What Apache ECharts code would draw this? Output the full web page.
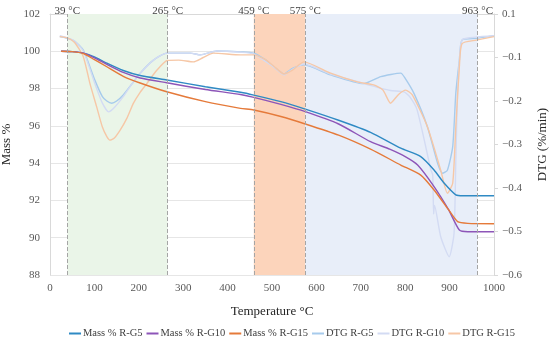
<!DOCTYPE html>
<html>
<head>
<meta charset="utf-8">
<script src="https://cdn.jsdelivr.net/npm/echarts@6/dist/echarts.min.js"></script>
<style>html,body{margin:0;padding:0;background:#fff}#c{width:550px;height:348px}</style>
</head>
<body>
<div id="c"></div>
<script>
const seriesNames = ['Mass % R-G5','Mass % R-G10','Mass % R-G15','DTG R-G5','DTG R-G10','DTG R-G15'];
const xTicks = [0,100,200,300,400,500,600,700,800,900,1000];
const leftTicks = [88,90,92,94,96,98,100,102];
const rightTickValues = [-0.6,-0.5,-0.4,-0.3,-0.2,-0.1,0];
const rightTickLabels = ['\u22120.6','\u22120.5','\u22120.4','\u22120.3','\u22120.2','\u22120.1','0.1'];
const stageLines = [39,265,459,575,963];
const stageAreas = [[39,265],[459,575],[575,963]];

const massG5 = [[25,100],[50,99.98],[75,99.9],[100,99.7],[128,99.36],[165,98.97],[203,98.7],[263,98.46],[350,98.1],[429,97.8],[459,97.65],[520,97.3],[575,96.9],[650,96.3],[722,95.65],[790,94.8],[835,94.35],[865,93.63],[888,92.92],[914,92.3],[930,92.25],[1000,92.25]];
const massG10 = [[25,100],[50,99.98],[75,99.9],[100,99.65],[128,99.3],[165,98.87],[203,98.57],[263,98.31],[350,97.95],[429,97.68],[459,97.53],[520,97.15],[575,96.76],[650,96.1],[722,95.15],[765,94.75],[800,94.35],[828,93.9],[865,92.74],[898,91.49],[922,90.41],[941,90.32],[1000,90.32]];
const massG15 = [[25,100],[50,99.98],[75,99.88],[100,99.55],[128,99.17],[165,98.66],[203,98.3],[263,97.83],[350,97.3],[429,96.94],[459,96.85],[520,96.5],[575,96.1],[650,95.5],[722,94.75],[790,93.9],[835,93.36],[865,92.56],[898,91.49],[918,90.86],[941,90.77],[1000,90.75]];
const dtgG5 = [[22,-0.052],[39,-0.056],[55,-0.062],[75,-0.083],[101,-0.152],[118,-0.19],[128,-0.2],[139,-0.205],[150,-0.2],[165,-0.186],[185,-0.16],[203,-0.136],[233,-0.106],[263,-0.09],[316,-0.09],[339,-0.094],[376,-0.085],[429,-0.087],[459,-0.09],[485,-0.105],[504,-0.121],[527,-0.138],[546,-0.125],[572,-0.117],[632,-0.14],[707,-0.16],[745,-0.144],[790,-0.136],[800,-0.148],[820,-0.183],[850,-0.259],[873,-0.343],[884,-0.366],[895,-0.359],[907,-0.305],[914,-0.182],[922,-0.106],[928,-0.06],[960,-0.056],[1000,-0.05]];
const dtgG10 = [[22,-0.05],[39,-0.055],[55,-0.062],[75,-0.085],[101,-0.16],[118,-0.205],[132,-0.225],[145,-0.215],[165,-0.19],[185,-0.16],[203,-0.137],[233,-0.106],[263,-0.09],[316,-0.09],[339,-0.094],[376,-0.085],[429,-0.088],[459,-0.092],[504,-0.122],[527,-0.14],[546,-0.127],[572,-0.115],[632,-0.138],[707,-0.16],[767,-0.176],[797,-0.179],[810,-0.19],[827,-0.221],[858,-0.359],[862,-0.37],[864,-0.46],[866,-0.44],[880,-0.512],[899,-0.558],[910,-0.504],[914,-0.336],[918,-0.182],[924,-0.08],[930,-0.058],[1000,-0.05]];
const dtgG15 = [[22,-0.052],[39,-0.055],[55,-0.065],[75,-0.098],[90,-0.16],[105,-0.213],[118,-0.26],[128,-0.282],[135,-0.29],[145,-0.285],[158,-0.267],[173,-0.24],[188,-0.205],[203,-0.18],[218,-0.16],[240,-0.13],[264,-0.107],[290,-0.106],[323,-0.11],[345,-0.1],[368,-0.09],[429,-0.094],[459,-0.094],[485,-0.105],[504,-0.12],[527,-0.138],[546,-0.129],[572,-0.11],[632,-0.136],[692,-0.156],[729,-0.163],[750,-0.175],[767,-0.205],[785,-0.185],[801,-0.175],[816,-0.186],[850,-0.259],[880,-0.359],[895,-0.412],[907,-0.389],[914,-0.259],[922,-0.121],[928,-0.068],[960,-0.06],[1000,-0.052]];

const colors = ['#2f8ac4','#8d55b8','#e57a3a','#a7cbec','#d3dbf3','#f6c7a6'];
const areaColors = ['#eaf5e8','#fcd4bb','#e8eef9'];
const font = '"Liberation Serif", "DejaVu Serif", serif';
const datas = [massG5, massG10, massG15, dtgG5, dtgG10, dtgG15];

const chart = echarts.init(document.getElementById('c'));
const series = datas.map((d,i)=>({
  name: seriesNames[i], type:'line', data:d, yAxisIndex: i<3?0:1,
  smooth:0.2, showSymbol:false, symbol:'none',
  lineStyle:{color:colors[i], width:1.4}, itemStyle:{color:colors[i]},
  z: i<3 ? 4 : 3
}));
series.unshift({
  name:'stages', type:'line', data:[], yAxisIndex:0, z:1,
  markArea:{silent:true, data: stageAreas.map((a,i)=>[{xAxis:a[0], itemStyle:{color:areaColors[i]}},{xAxis:a[1]}])},
  markLine:{silent:true, symbol:'none', lineStyle:{type:'dashed', color:'#a5a5a5', width:1},
    label:{position:'end', distance:-3, formatter:p=>p.value+' \u00b0C', fontFamily:font, fontSize:11, color:'#404040'},
    data: stageLines.map(v=>({xAxis:v}))}
});

chart.setOption({
  animation:false,
  textStyle:{fontFamily:font},
  grid:{left:50, right:56, top:14, bottom:73, outerBoundsMode:'none', containLabel:false},
  legend:{data:seriesNames, bottom:4, left:64, width:520, icon:'rect', itemWidth:12, itemHeight:2, itemGap:4,
    textStyle:{fontFamily:font, fontSize:10.5, color:'#404040', padding:[0,0,0,-3]}},
  xAxis:{type:'value', min:0, max:1000, interval:100,
    name:'Temperature \u00b0C', nameLocation:'middle', nameGap:30, nameTextStyle:{fontFamily:font, fontSize:13, color:'#262626'},
    axisLine:{show:true, lineStyle:{color:'#d9d9d9'}}, axisTick:{show:false}, splitLine:{show:false},
    axisLabel:{fontFamily:font, fontSize:11, color:'#595959', margin:8, formatter:v=>xTicks.includes(v)?String(v):''}},
  yAxis:[
    {type:'value', min:88, max:102, interval:2, position:'left',
      name:'Mass %', nameLocation:'middle', nameGap:26, nameTextStyle:{fontFamily:font, fontSize:13, color:'#262626'},
      axisLine:{show:true, lineStyle:{color:'#d9d9d9'}}, axisTick:{show:false},
      splitLine:{show:true, lineStyle:{color:'#e6e6e6'}},
      axisLabel:{fontFamily:font, fontSize:11, color:'#595959', margin:10, formatter:v=>leftTicks.includes(v)?String(v):''}},
    {type:'value', min:-0.6, max:0, interval:0.1, position:'right',
      name:'DTG (%/min)', nameLocation:'middle', nameGap:42, nameTextStyle:{fontFamily:font, fontSize:13, color:'#262626'},
      axisLine:{show:true, lineStyle:{color:'#d9d9d9'}}, axisTick:{show:true, length:4, lineStyle:{color:'#d9d9d9'}},
      splitLine:{show:false},
      axisLabel:{fontFamily:font, fontSize:11, color:'#595959', margin:8, formatter:v=>{
        const k = rightTickValues.findIndex(t=>Math.abs(t-v)<1e-6); return k>=0?rightTickLabels[k]:''; }}}
  ],
  series: series
});
</script>
</body>
</html>
